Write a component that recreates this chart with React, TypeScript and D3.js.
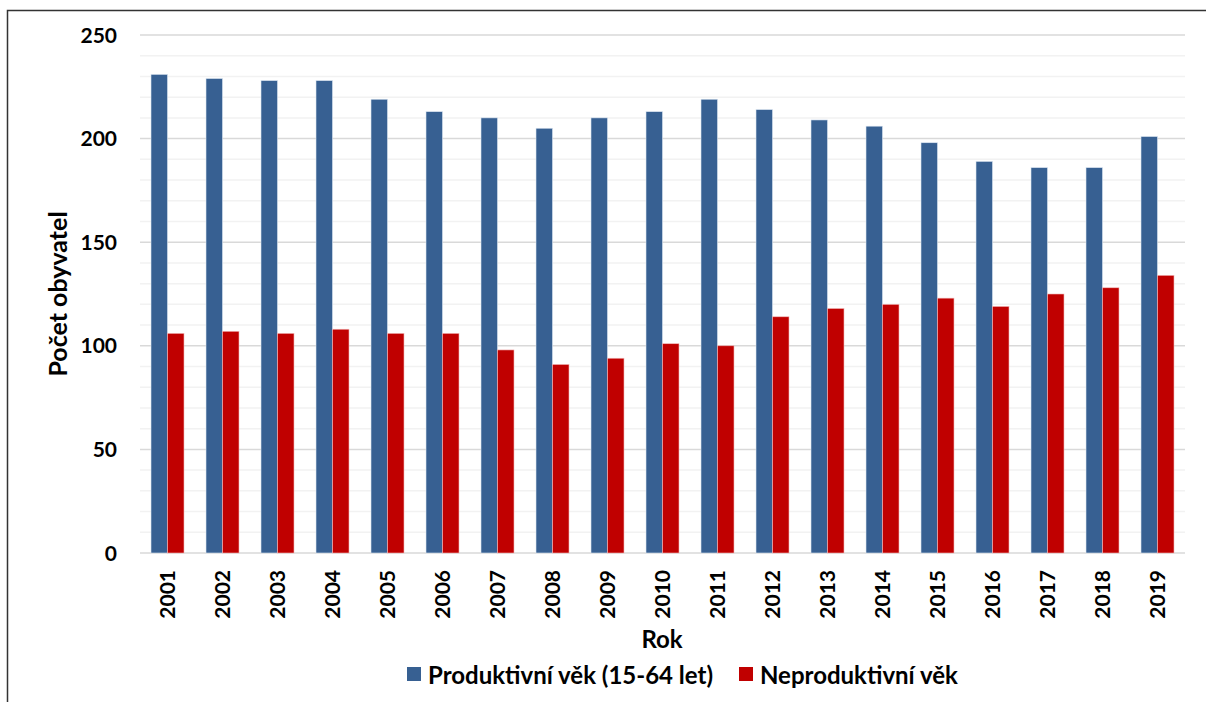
import React from "react";
import * as d3 from "d3";

const years = ["2001", "2002", "2003", "2004", "2005", "2006", "2007", "2008", "2009", "2010",
  "2011", "2012", "2013", "2014", "2015", "2016", "2017", "2018", "2019"];
const produktivni = [231, 229, 228, 228, 219, 213, 210, 205, 210, 213, 219, 214, 209, 206, 198, 189, 186, 186, 201];
const neproduktivni = [106, 107, 106, 108, 106, 106, 98, 91, 94, 101, 100, 114, 118, 120, 123, 119, 125, 128, 134];
const seriesNames = ["Produktivní věk (15-64 let)", "Neproduktivní věk"];
const seriesColors = ["#376092", "#C00000"];
const yTicks = [0, 50, 100, 150, 200, 250];

const W = 1206;
const H = 702;
const font = "Lato, Carlito, Calibri, sans-serif";

const App = () => {
  const x = d3.scaleBand().domain(years).range([140, 1185]).paddingInner(0.4).paddingOuter(0.2);
  const inner = d3.scaleBand().domain(["p", "n"]).range([0, x.bandwidth()]);
  const y = d3.scaleLinear().domain([0, 250]).range([553, 35]);
  const minor = d3.range(0, 251, 10);

  return (
    <svg width={W} height={H} style={{ position: "absolute", left: 0, top: 0, background: "#fff" }}>
      <path d={`M7.5,${H} V10.5 H${W}`} fill="none" stroke="#333" strokeWidth={1.5} />

      {minor.map((t) => (
        <line key={`g${t}`} x1={140} x2={1185} y1={y(t)} y2={y(t)}
          stroke={t % 50 === 0 ? "#d9d9d9" : "#f2f2f2"} strokeWidth={1.5} />
      ))}

      {years.map((yr, i) => (
        <g key={yr} transform={`translate(${x(yr)},0)`}>
          <rect x={inner("p")} y={y(produktivni[i])} width={inner.bandwidth()}
            height={y(0) - y(produktivni[i])} fill={seriesColors[0]} stroke="#dce6f2" strokeWidth={0.6} />
          <rect x={inner("n")} y={y(neproduktivni[i])} width={inner.bandwidth()}
            height={y(0) - y(neproduktivni[i])} fill={seriesColors[1]} stroke="#f2b8b8" strokeWidth={0.6} />
        </g>
      ))}

      {yTicks.map((t) => (
        <text key={`y${t}`} x={117} y={y(t)} dy="0.36em" textAnchor="end"
          fontFamily={font} fontWeight="bold" fontSize={21} fill="#000">{t}</text>
      ))}

      {years.map((yr) => (
        <text key={`x${yr}`} transform={`translate(${(x(yr) as number) + x.bandwidth() / 2},570) rotate(-90)`}
          dy="0.36em" textAnchor="end" fontFamily={font} fontWeight="bold" fontSize={21} fill="#000">{yr}</text>
      ))}

      <text transform="translate(58,294) rotate(-90)" dy="0.36em" textAnchor="middle"
        fontFamily={font} fontWeight="bold" fontSize={25} fill="#000">Počet obyvatel</text>
      <text x={662} y={648} textAnchor="middle" fontFamily={font} fontWeight="bold" fontSize={24} fill="#000">Rok</text>

      <g>
        <rect x={407} y={667} width={14} height={14} fill={seriesColors[0]} />
        <text x={428} y={684} fontFamily={font} fontWeight="bold" fontSize={24} fill="#000">{seriesNames[0]}</text>
        <rect x={739} y={667} width={14} height={14} fill={seriesColors[1]} />
        <text x={760} y={684} fontFamily={font} fontWeight="bold" fontSize={24} fill="#000">{seriesNames[1]}</text>
      </g>
    </svg>
  );
};

export default App;
